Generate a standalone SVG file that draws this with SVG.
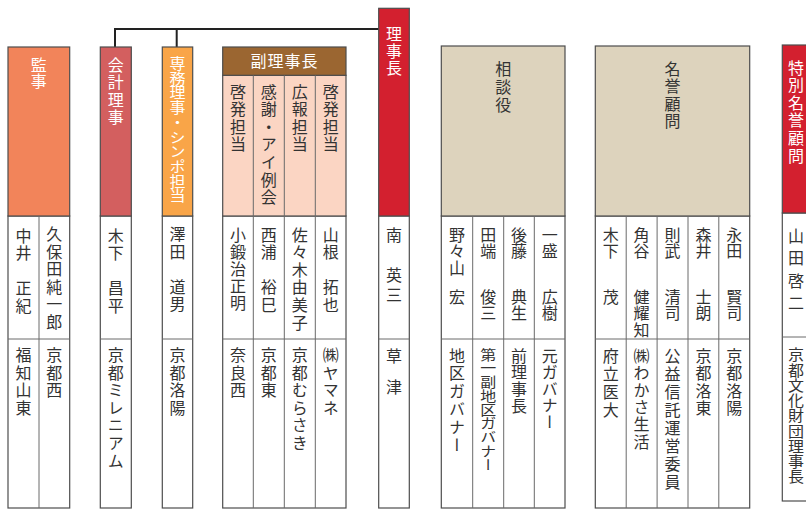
<svg xmlns="http://www.w3.org/2000/svg" width="806" height="509" viewBox="0 0 806 509">
<style>
.bd{fill:#fff;stroke:#4d4d4d;stroke-width:1.2}
.hd{stroke:#4d4d4d;stroke-width:1.2}
.dv{stroke:#6a6a6a;stroke-width:1;fill:none}
.v{font-family:"Noto Sans CJK JP","Noto Sans CJK SC",sans-serif;font-size:16px;writing-mode:vertical-rl;letter-spacing:1.6px;fill:#333}
.h{font-family:"Noto Sans CJK JP","Noto Sans CJK SC",sans-serif;font-size:16px;letter-spacing:1px;text-anchor:middle;fill:#fff}
.w{fill:#fff}
.cn{stroke:#222;stroke-width:2;fill:none}
</style>
<g id="connectors">
<path class="cn" d="M115,47 V29 H379 M176.7,29 V47"/>
</g>
<g id="kansa">
<rect class="bd" x="8" y="216" width="61.7" height="292"/>
<rect class="hd" x="8" y="47" width="61.7" height="169" fill="#F2845A"/>
<path class="dv" d="M39,216 V508 M8,339 H69.7"/>
<text class="v w" x="38.8" y="56.5" style="letter-spacing:0">監事</text>
<text class="v" x="23.5" y="227.5">中井　正紀</text>
<text class="v" x="54.3" y="226">久保田純一郎</text>
<text class="v" x="23.5" y="347">福知山東</text>
<text class="v" x="54.3" y="347">京都西</text>
</g>
<g id="kaikei">
<rect class="bd" x="100.3" y="216" width="31" height="292"/>
<rect class="hd" x="100.3" y="47" width="31" height="169" fill="#D35F5F"/>
<path class="dv" d="M100.3,339 H131.3"/>
<text class="v w" x="115.8" y="56.5">会計理事</text>
<text class="v" x="115.8" y="227.5">木下　昌平</text>
<text class="v" x="115.8" y="347">京都ミレニアム</text>
</g>
<g id="senmu">
<rect class="bd" x="162.3" y="216" width="30.4" height="292"/>
<rect class="hd" x="162.3" y="47" width="30.4" height="169" fill="#F9A548"/>
<path class="dv" d="M162.3,339 H192.7"/>
<text class="v w" transform="translate(177.5,56) scale(1,0.92)" x="0" y="0" style="letter-spacing:0">専務理事・シンポ担当</text>
<text class="v" x="177.5" y="226">澤田　道男</text>
<text class="v" x="177.5" y="347">京都洛陽</text>
</g>
<g id="fuku">
<rect class="bd" x="222.7" y="216" width="123.3" height="292"/>
<rect class="hd" x="222.7" y="75.3" width="123.3" height="140.7" fill="#FBD5C3"/>
<rect class="hd" x="222.7" y="47" width="123.3" height="28.3" fill="#9B6631"/>
<path class="dv" d="M253.3,75.3 V508 M284.3,75.3 V508 M315.3,75.3 V508 M222.7,339 H346"/>
<text class="h" x="284.4" y="67">副理事長</text>
<text class="v" x="238" y="83.5">啓発担当</text>
<text class="v" x="268.8" y="83.5">感謝・アイ例会</text>
<text class="v" x="299.8" y="83.5">広報担当</text>
<text class="v" x="330.7" y="83.5">啓発担当</text>
<text class="v" x="238" y="226.5" style="letter-spacing:1px">小鍛治正明</text>
<text class="v" x="268.8" y="226.5">西浦　裕巳</text>
<text class="v" x="299.8" y="226.5">佐々木由美子</text>
<text class="v" x="330.7" y="226.5">山根　拓也</text>
<text class="v" x="238" y="347">奈良西</text>
<text class="v" x="268.8" y="347">京都東</text>
<text class="v" x="299.8" y="347">京都むらさき</text>
<text class="v" x="330.7" y="347">㈱ヤマネ</text>
</g>
<g id="rijicho">
<rect class="bd" x="378.7" y="216" width="30.6" height="292"/>
<rect class="hd" x="378.7" y="8.3" width="30.6" height="207.7" fill="#D3202F"/>
<path class="dv" d="M378.7,339 H409.3"/>
<text class="v w" x="394" y="25.5" style="letter-spacing:1px">理事長</text>
<text class="v" x="394" y="226.5" style="letter-spacing:4px">南　英三</text>
<text class="v" x="394" y="347.5" style="letter-spacing:-0.5px">草　津</text>
</g>
<g id="sodanyaku">
<rect class="bd" x="441.3" y="216" width="123.7" height="292"/>
<rect class="hd" x="441.3" y="46" width="123.7" height="170" fill="#DDD3BD"/>
<path class="dv" d="M472.7,216 V508 M503.7,216 V508 M534.3,216 V508 M441.3,339 H565"/>
<text class="v" x="503.2" y="60.5" style="letter-spacing:2px">相談役</text>
<text class="v" x="457" y="226.5" style="letter-spacing:0.5px">野々山<tspan y="288.5">宏</tspan></text>
<text class="v" x="488.2" y="226.5" style="letter-spacing:0.5px">田端<tspan y="288.5">俊三</tspan></text>
<text class="v" x="519" y="226.5" style="letter-spacing:0.5px">後藤<tspan y="288.5">典生</tspan></text>
<text class="v" x="549.7" y="226.5" style="letter-spacing:0.5px">一盛<tspan y="288.5">広樹</tspan></text>
<text class="v" x="457" y="347.5" style="letter-spacing:1.8px">地区ガバナー</text>
<text class="v" transform="translate(488.2,347.5) scale(1,0.86)" x="0" y="0" style="letter-spacing:0">第一副地区ガバナー</text>
<text class="v" x="519" y="347.5" style="letter-spacing:0.7px">前理事長</text>
<text class="v" x="549.7" y="347.5" style="letter-spacing:0.5px">元ガバナー</text>
</g>
<g id="meiyo">
<rect class="bd" x="595.3" y="216" width="154.4" height="292"/>
<rect class="hd" x="595.3" y="46" width="154.4" height="170" fill="#DDD3BD"/>
<path class="dv" d="M626.2,216 V508 M657.1,216 V508 M688,216 V508 M718.8,216 V508 M595.3,339 H749.7"/>
<text class="v" x="672.5" y="60.5">名誉顧問</text>
<text class="v" x="610.7" y="226.5" style="letter-spacing:0.5px">木下<tspan y="288.5">茂</tspan></text>
<text class="v" x="641.6" y="226.5" style="letter-spacing:0.5px">角谷<tspan y="288.5">健耀知</tspan></text>
<text class="v" x="672.5" y="226.5" style="letter-spacing:0.5px">則武<tspan y="288.5">清司</tspan></text>
<text class="v" x="703.4" y="226.5" style="letter-spacing:0.5px">森井<tspan y="288.5">士朗</tspan></text>
<text class="v" x="734.3" y="226.5" style="letter-spacing:0.5px">永田<tspan y="288.5">賢司</tspan></text>
<text class="v" x="610.7" y="347.5" style="letter-spacing:2px">府立医大</text>
<text class="v" x="641.6" y="347.5" style="letter-spacing:1.2px">㈱わかさ生活</text>
<text class="v" x="672.5" y="347.5" style="letter-spacing:2px">公益信託運営委員</text>
<text class="v" x="703.4" y="347.5">京都洛東</text>
<text class="v" x="734.3" y="347.5">京都洛陽</text>
</g>
<g id="tokubetsu">
<rect class="bd" x="782.3" y="213" width="31" height="288"/>
<rect class="hd" x="782.3" y="45" width="31" height="168" fill="#D3202F"/>
<path class="dv" d="M782.3,337 H813.3"/>
<text class="v w" x="796" y="59.5">特別名誉顧問</text>
<text class="v" x="796" y="227.5" style="letter-spacing:6.5px">山田啓二</text>
<text class="v" transform="translate(796,347) scale(1,0.953)" x="0" y="0" style="letter-spacing:0">京都文化財団理事長</text>
</g>
</svg>
